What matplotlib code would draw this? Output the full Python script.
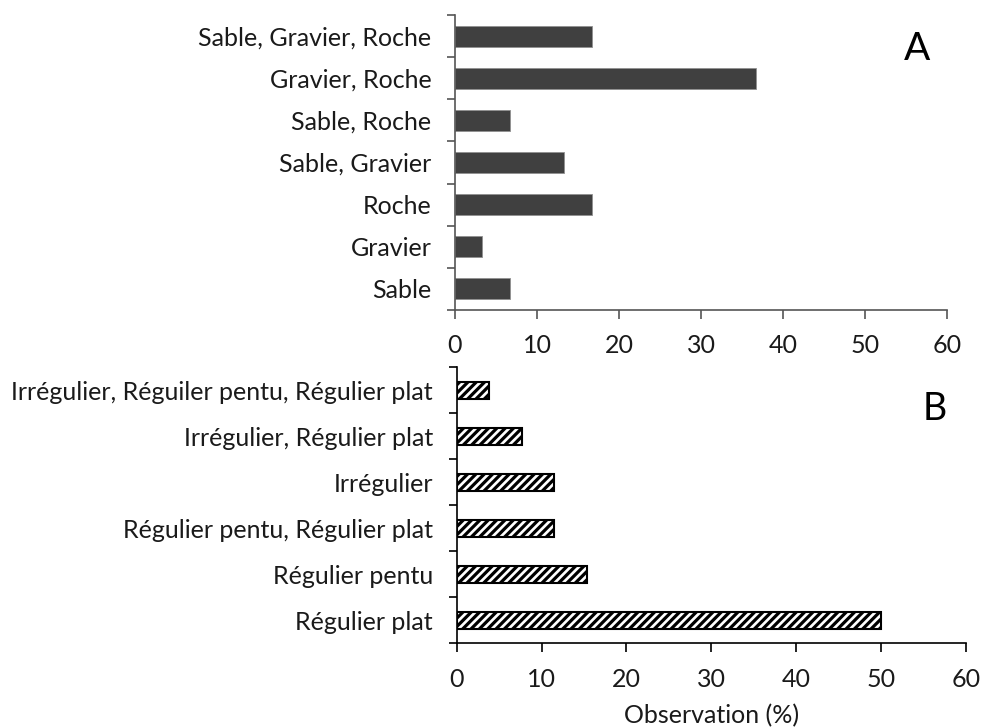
import numpy as np
import matplotlib.pyplot as plt

plt.rcParams['font.family'] = ['Lato', 'DejaVu Sans']
plt.rcParams['hatch.linewidth'] = 2.3

# --- Données ---
substrat_labels = ["Sable", "Gravier", "Roche", "Sable, Gravier", "Sable, Roche",
                   "Gravier, Roche", "Sable, Gravier, Roche"]
substrat_values = [6.7, 3.3, 16.7, 13.3, 6.7, 36.7, 16.7]

pente_labels = ["Régulier plat", "Régulier pentu", "Régulier pentu, Régulier plat",
                "Irrégulier", "Irrégulier, Régulier plat",
                "Irrégulier, Réguiler pentu, Régulier plat"]
pente_values = [50.0, 15.4, 11.5, 11.5, 7.7, 3.8]

x_ticks = [0, 10, 20, 30, 40, 50, 60]

fs = 18

fig = plt.figure(figsize=(9.82, 7.28), dpi=100)
ax_a = fig.add_axes([0.4633, 0.5742, 0.5011, 0.4052])
ax_b = fig.add_axes([0.4651, 0.1164, 0.5183, 0.3791])


def style_axis(ax, labels, color):
    n = len(labels)
    ax.set_xlim(0, 60)
    ax.set_ylim(-0.5, n - 0.5)
    ax.set_xticks(x_ticks)
    ax.set_xticklabels([str(t) for t in x_ticks], fontsize=fs, color='#1a1a1a')
    # graduations aux limites de catégories, étiquettes au centre
    ax.set_yticks(np.arange(n + 1) - 0.5)
    ax.set_yticklabels([''] * (n + 1))
    ax.set_yticks(np.arange(n), minor=True)
    ax.set_yticklabels(labels, minor=True, fontsize=fs, color='#1a1a1a')
    ax.tick_params(axis='y', which='major', length=6, width=1.2, color=color)
    ax.tick_params(axis='y', which='minor', length=0, pad=17)
    ax.tick_params(axis='x', length=6.5, width=1.2, color=color, pad=11)
    for s in ['top', 'right']:
        ax.spines[s].set_visible(False)
    for s in ['left', 'bottom']:
        ax.spines[s].set_color(color)
        ax.spines[s].set_linewidth(1.2)


# --- Panneau A ---
ax_a.barh(np.arange(len(substrat_values)), substrat_values, height=0.5,
          color='#404040', edgecolor='#909090', linewidth=0.6)
style_axis(ax_a, substrat_labels, '#555555')
ax_a.text(0.94, 0.885, "A", transform=ax_a.transAxes, fontsize=28,
          ha='center', va='center', color='black')

# --- Panneau B ---
ax_b.barh(np.arange(len(pente_values)), pente_values, height=0.38,
          color='white', edgecolor='black', linewidth=1.5, hatch='////')
style_axis(ax_b, pente_labels, 'black')
ax_b.text(0.94, 0.849, "B", transform=ax_b.transAxes, fontsize=27,
          ha='center', va='center', color='black')
ax_b.set_xlabel("Observation (%)", fontsize=fs, color='#1a1a1a', labelpad=10)

fig.savefig("out.png", dpi=100)
